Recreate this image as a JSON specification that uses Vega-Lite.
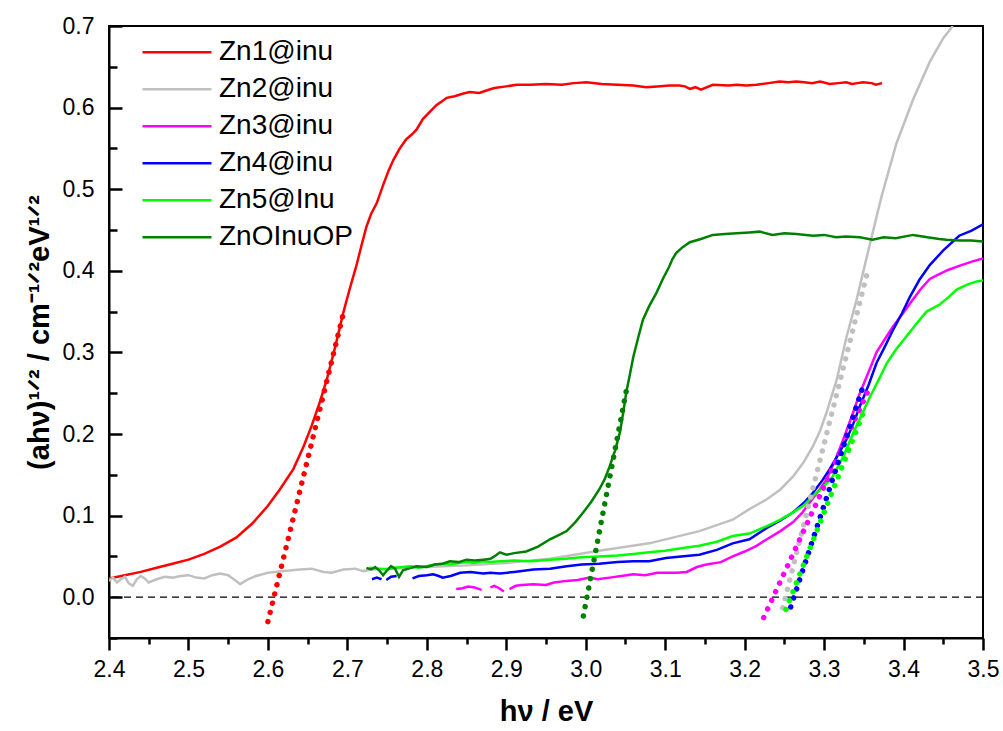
{
"$schema": "https://vega.github.io/schema/vega-lite/v6.json",
"width": 874, "height": 612,
"autosize": {"type": "none"},
"padding": {"left": 109, "top": 26, "right": 20, "bottom": 93},
"background": "white",
"config": {"view": {"stroke": "black", "strokeWidth": 2}, "font": "Liberation Sans"},
"datasets": {
"curves": [
{"s":"Zn1@inu","g":"a","x":2.400,"y":0.023},{"s":"Zn1@inu","g":"a","x":2.420,"y":0.027},{"s":"Zn1@inu","g":"a","x":2.440,"y":0.031},{"s":"Zn1@inu","g":"a","x":2.460,"y":0.036},{"s":"Zn1@inu","g":"a","x":2.480,"y":0.041},{"s":"Zn1@inu","g":"a","x":2.500,"y":0.046},{"s":"Zn1@inu","g":"a","x":2.520,"y":0.053},{"s":"Zn1@inu","g":"a","x":2.540,"y":0.062},{"s":"Zn1@inu","g":"a","x":2.560,"y":0.073},{"s":"Zn1@inu","g":"a","x":2.580,"y":0.090},{"s":"Zn1@inu","g":"a","x":2.600,"y":0.112},{"s":"Zn1@inu","g":"a","x":2.615,"y":0.132},{"s":"Zn1@inu","g":"a","x":2.632,"y":0.157},{"s":"Zn1@inu","g":"a","x":2.645,"y":0.185},{"s":"Zn1@inu","g":"a","x":2.655,"y":0.210},{"s":"Zn1@inu","g":"a","x":2.665,"y":0.238},{"s":"Zn1@inu","g":"a","x":2.675,"y":0.270},{"s":"Zn1@inu","g":"a","x":2.685,"y":0.308},{"s":"Zn1@inu","g":"a","x":2.695,"y":0.349},{"s":"Zn1@inu","g":"a","x":2.703,"y":0.378},{"s":"Zn1@inu","g":"a","x":2.711,"y":0.405},{"s":"Zn1@inu","g":"a","x":2.718,"y":0.432},{"s":"Zn1@inu","g":"a","x":2.724,"y":0.454},{"s":"Zn1@inu","g":"a","x":2.730,"y":0.470},{"s":"Zn1@inu","g":"a","x":2.737,"y":0.483},{"s":"Zn1@inu","g":"a","x":2.745,"y":0.505},{"s":"Zn1@inu","g":"a","x":2.752,"y":0.523},{"s":"Zn1@inu","g":"a","x":2.758,"y":0.536},{"s":"Zn1@inu","g":"a","x":2.766,"y":0.550},{"s":"Zn1@inu","g":"a","x":2.774,"y":0.561},{"s":"Zn1@inu","g":"a","x":2.781,"y":0.567},{"s":"Zn1@inu","g":"a","x":2.787,"y":0.573},{"s":"Zn1@inu","g":"a","x":2.795,"y":0.586},{"s":"Zn1@inu","g":"a","x":2.804,"y":0.595},{"s":"Zn1@inu","g":"a","x":2.812,"y":0.603},{"s":"Zn1@inu","g":"a","x":2.818,"y":0.607},{"s":"Zn1@inu","g":"a","x":2.825,"y":0.612},{"s":"Zn1@inu","g":"a","x":2.835,"y":0.614},{"s":"Zn1@inu","g":"a","x":2.845,"y":0.617},{"s":"Zn1@inu","g":"a","x":2.854,"y":0.619},{"s":"Zn1@inu","g":"a","x":2.866,"y":0.618},{"s":"Zn1@inu","g":"a","x":2.875,"y":0.621},{"s":"Zn1@inu","g":"a","x":2.885,"y":0.624},{"s":"Zn1@inu","g":"a","x":2.900,"y":0.626},{"s":"Zn1@inu","g":"a","x":2.913,"y":0.628},{"s":"Zn1@inu","g":"a","x":2.930,"y":0.628},{"s":"Zn1@inu","g":"a","x":2.950,"y":0.629},{"s":"Zn1@inu","g":"a","x":2.970,"y":0.628},{"s":"Zn1@inu","g":"a","x":2.985,"y":0.630},{"s":"Zn1@inu","g":"a","x":3.001,"y":0.631},{"s":"Zn1@inu","g":"a","x":3.020,"y":0.629},{"s":"Zn1@inu","g":"a","x":3.040,"y":0.628},{"s":"Zn1@inu","g":"a","x":3.060,"y":0.627},{"s":"Zn1@inu","g":"a","x":3.076,"y":0.625},{"s":"Zn1@inu","g":"a","x":3.090,"y":0.626},{"s":"Zn1@inu","g":"a","x":3.105,"y":0.627},{"s":"Zn1@inu","g":"a","x":3.118,"y":0.627},{"s":"Zn1@inu","g":"a","x":3.125,"y":0.626},{"s":"Zn1@inu","g":"a","x":3.131,"y":0.623},{"s":"Zn1@inu","g":"a","x":3.138,"y":0.625},{"s":"Zn1@inu","g":"a","x":3.145,"y":0.622},{"s":"Zn1@inu","g":"a","x":3.160,"y":0.628},{"s":"Zn1@inu","g":"a","x":3.180,"y":0.627},{"s":"Zn1@inu","g":"a","x":3.190,"y":0.628},{"s":"Zn1@inu","g":"a","x":3.202,"y":0.627},{"s":"Zn1@inu","g":"a","x":3.215,"y":0.628},{"s":"Zn1@inu","g":"a","x":3.230,"y":0.630},{"s":"Zn1@inu","g":"a","x":3.244,"y":0.632},{"s":"Zn1@inu","g":"a","x":3.255,"y":0.631},{"s":"Zn1@inu","g":"a","x":3.265,"y":0.632},{"s":"Zn1@inu","g":"a","x":3.275,"y":0.631},{"s":"Zn1@inu","g":"a","x":3.285,"y":0.630},{"s":"Zn1@inu","g":"a","x":3.295,"y":0.632},{"s":"Zn1@inu","g":"a","x":3.307,"y":0.629},{"s":"Zn1@inu","g":"a","x":3.318,"y":0.630},{"s":"Zn1@inu","g":"a","x":3.328,"y":0.631},{"s":"Zn1@inu","g":"a","x":3.335,"y":0.629},{"s":"Zn1@inu","g":"a","x":3.342,"y":0.630},{"s":"Zn1@inu","g":"a","x":3.349,"y":0.631},{"s":"Zn1@inu","g":"a","x":3.360,"y":0.630},{"s":"Zn1@inu","g":"a","x":3.365,"y":0.628},{"s":"Zn1@inu","g":"a","x":3.373,"y":0.630},
{"s":"Zn2@inu","g":"a","x":2.400,"y":0.020},{"s":"Zn2@inu","g":"a","x":2.405,"y":0.024},{"s":"Zn2@inu","g":"a","x":2.410,"y":0.018},{"s":"Zn2@inu","g":"a","x":2.415,"y":0.022},{"s":"Zn2@inu","g":"a","x":2.420,"y":0.025},{"s":"Zn2@inu","g":"a","x":2.425,"y":0.017},{"s":"Zn2@inu","g":"a","x":2.430,"y":0.014},{"s":"Zn2@inu","g":"a","x":2.435,"y":0.022},{"s":"Zn2@inu","g":"a","x":2.440,"y":0.026},{"s":"Zn2@inu","g":"a","x":2.445,"y":0.023},{"s":"Zn2@inu","g":"a","x":2.450,"y":0.018},{"s":"Zn2@inu","g":"a","x":2.460,"y":0.022},{"s":"Zn2@inu","g":"a","x":2.470,"y":0.025},{"s":"Zn2@inu","g":"a","x":2.480,"y":0.024},{"s":"Zn2@inu","g":"a","x":2.490,"y":0.026},{"s":"Zn2@inu","g":"a","x":2.500,"y":0.027},{"s":"Zn2@inu","g":"a","x":2.510,"y":0.024},{"s":"Zn2@inu","g":"a","x":2.520,"y":0.023},{"s":"Zn2@inu","g":"a","x":2.530,"y":0.027},{"s":"Zn2@inu","g":"a","x":2.540,"y":0.029},{"s":"Zn2@inu","g":"a","x":2.550,"y":0.027},{"s":"Zn2@inu","g":"a","x":2.560,"y":0.020},{"s":"Zn2@inu","g":"a","x":2.565,"y":0.016},{"s":"Zn2@inu","g":"a","x":2.575,"y":0.022},{"s":"Zn2@inu","g":"a","x":2.585,"y":0.026},{"s":"Zn2@inu","g":"a","x":2.600,"y":0.030},{"s":"Zn2@inu","g":"a","x":2.620,"y":0.032},{"s":"Zn2@inu","g":"a","x":2.640,"y":0.034},{"s":"Zn2@inu","g":"a","x":2.655,"y":0.035},{"s":"Zn2@inu","g":"a","x":2.670,"y":0.031},{"s":"Zn2@inu","g":"a","x":2.680,"y":0.030},{"s":"Zn2@inu","g":"a","x":2.695,"y":0.034},{"s":"Zn2@inu","g":"a","x":2.710,"y":0.035},{"s":"Zn2@inu","g":"a","x":2.720,"y":0.032},{"s":"Zn2@inu","g":"a","x":2.730,"y":0.034},{"s":"Zn2@inu","g":"a","x":2.750,"y":0.035},{"s":"Zn2@inu","g":"a","x":2.800,"y":0.037},{"s":"Zn2@inu","g":"a","x":2.850,"y":0.039},{"s":"Zn2@inu","g":"a","x":2.900,"y":0.042},{"s":"Zn2@inu","g":"a","x":2.955,"y":0.047},{"s":"Zn2@inu","g":"a","x":3.017,"y":0.057},{"s":"Zn2@inu","g":"a","x":3.080,"y":0.066},{"s":"Zn2@inu","g":"a","x":3.143,"y":0.081},{"s":"Zn2@inu","g":"a","x":3.185,"y":0.095},{"s":"Zn2@inu","g":"a","x":3.206,"y":0.108},{"s":"Zn2@inu","g":"a","x":3.228,"y":0.120},{"s":"Zn2@inu","g":"a","x":3.245,"y":0.132},{"s":"Zn2@inu","g":"a","x":3.261,"y":0.148},{"s":"Zn2@inu","g":"a","x":3.274,"y":0.165},{"s":"Zn2@inu","g":"a","x":3.286,"y":0.185},{"s":"Zn2@inu","g":"a","x":3.295,"y":0.204},{"s":"Zn2@inu","g":"a","x":3.303,"y":0.226},{"s":"Zn2@inu","g":"a","x":3.316,"y":0.267},{"s":"Zn2@inu","g":"a","x":3.328,"y":0.318},{"s":"Zn2@inu","g":"a","x":3.341,"y":0.365},{"s":"Zn2@inu","g":"a","x":3.353,"y":0.414},{"s":"Zn2@inu","g":"a","x":3.372,"y":0.490},{"s":"Zn2@inu","g":"a","x":3.391,"y":0.556},{"s":"Zn2@inu","g":"a","x":3.412,"y":0.610},{"s":"Zn2@inu","g":"a","x":3.433,"y":0.656},{"s":"Zn2@inu","g":"a","x":3.450,"y":0.685},{"s":"Zn2@inu","g":"a","x":3.462,"y":0.700},
{"s":"Zn3@inu","g":"a","x":2.837,"y":0.010},{"s":"Zn3@inu","g":"a","x":2.845,"y":0.011},{"s":"Zn3@inu","g":"a","x":2.852,"y":0.013},{"s":"Zn3@inu","g":"a","x":2.860,"y":0.012},{"s":"Zn3@inu","g":"a","x":2.869,"y":0.009},
{"s":"Zn3@inu","g":"b","x":2.880,"y":0.012},{"s":"Zn3@inu","g":"b","x":2.885,"y":0.014},{"s":"Zn3@inu","g":"b","x":2.891,"y":0.011},{"s":"Zn3@inu","g":"b","x":2.897,"y":0.007},
{"s":"Zn3@inu","g":"c","x":2.904,"y":0.010},{"s":"Zn3@inu","g":"c","x":2.912,"y":0.014},{"s":"Zn3@inu","g":"c","x":2.920,"y":0.015},{"s":"Zn3@inu","g":"c","x":2.934,"y":0.016},{"s":"Zn3@inu","g":"c","x":2.950,"y":0.015},{"s":"Zn3@inu","g":"c","x":2.960,"y":0.018},{"s":"Zn3@inu","g":"c","x":2.976,"y":0.020},{"s":"Zn3@inu","g":"c","x":2.990,"y":0.021},{"s":"Zn3@inu","g":"c","x":3.005,"y":0.024},{"s":"Zn3@inu","g":"c","x":3.015,"y":0.022},{"s":"Zn3@inu","g":"c","x":3.030,"y":0.024},{"s":"Zn3@inu","g":"c","x":3.045,"y":0.026},{"s":"Zn3@inu","g":"c","x":3.060,"y":0.028},{"s":"Zn3@inu","g":"c","x":3.075,"y":0.027},{"s":"Zn3@inu","g":"c","x":3.090,"y":0.030},{"s":"Zn3@inu","g":"c","x":3.101,"y":0.030},{"s":"Zn3@inu","g":"c","x":3.115,"y":0.030},{"s":"Zn3@inu","g":"c","x":3.127,"y":0.031},{"s":"Zn3@inu","g":"c","x":3.140,"y":0.037},{"s":"Zn3@inu","g":"c","x":3.152,"y":0.040},{"s":"Zn3@inu","g":"c","x":3.170,"y":0.043},{"s":"Zn3@inu","g":"c","x":3.185,"y":0.050},{"s":"Zn3@inu","g":"c","x":3.200,"y":0.056},{"s":"Zn3@inu","g":"c","x":3.215,"y":0.063},{"s":"Zn3@inu","g":"c","x":3.228,"y":0.071},{"s":"Zn3@inu","g":"c","x":3.245,"y":0.081},{"s":"Zn3@inu","g":"c","x":3.261,"y":0.092},{"s":"Zn3@inu","g":"c","x":3.272,"y":0.103},{"s":"Zn3@inu","g":"c","x":3.282,"y":0.116},{"s":"Zn3@inu","g":"c","x":3.293,"y":0.130},{"s":"Zn3@inu","g":"c","x":3.303,"y":0.144},{"s":"Zn3@inu","g":"c","x":3.314,"y":0.168},{"s":"Zn3@inu","g":"c","x":3.324,"y":0.193},{"s":"Zn3@inu","g":"c","x":3.335,"y":0.222},{"s":"Zn3@inu","g":"c","x":3.345,"y":0.250},{"s":"Zn3@inu","g":"c","x":3.356,"y":0.276},{"s":"Zn3@inu","g":"c","x":3.366,"y":0.300},{"s":"Zn3@inu","g":"c","x":3.377,"y":0.317},{"s":"Zn3@inu","g":"c","x":3.387,"y":0.332},{"s":"Zn3@inu","g":"c","x":3.400,"y":0.349},{"s":"Zn3@inu","g":"c","x":3.412,"y":0.365},{"s":"Zn3@inu","g":"c","x":3.422,"y":0.378},{"s":"Zn3@inu","g":"c","x":3.433,"y":0.390},{"s":"Zn3@inu","g":"c","x":3.445,"y":0.396},{"s":"Zn3@inu","g":"c","x":3.456,"y":0.401},{"s":"Zn3@inu","g":"c","x":3.470,"y":0.406},{"s":"Zn3@inu","g":"c","x":3.485,"y":0.411},{"s":"Zn3@inu","g":"c","x":3.500,"y":0.415},
{"s":"Zn4@inu","g":"a","x":2.731,"y":0.022},{"s":"Zn4@inu","g":"a","x":2.737,"y":0.024},{"s":"Zn4@inu","g":"a","x":2.743,"y":0.022},
{"s":"Zn4@inu","g":"b","x":2.749,"y":0.021},{"s":"Zn4@inu","g":"b","x":2.755,"y":0.025},{"s":"Zn4@inu","g":"b","x":2.762,"y":0.026},
{"s":"Zn4@inu","g":"c","x":2.782,"y":0.023},{"s":"Zn4@inu","g":"c","x":2.790,"y":0.026},{"s":"Zn4@inu","g":"c","x":2.800,"y":0.027},{"s":"Zn4@inu","g":"c","x":2.808,"y":0.028},{"s":"Zn4@inu","g":"c","x":2.815,"y":0.026},{"s":"Zn4@inu","g":"c","x":2.820,"y":0.024},{"s":"Zn4@inu","g":"c","x":2.830,"y":0.026},{"s":"Zn4@inu","g":"c","x":2.842,"y":0.030},{"s":"Zn4@inu","g":"c","x":2.855,"y":0.031},{"s":"Zn4@inu","g":"c","x":2.871,"y":0.029},{"s":"Zn4@inu","g":"c","x":2.880,"y":0.030},{"s":"Zn4@inu","g":"c","x":2.892,"y":0.029},{"s":"Zn4@inu","g":"c","x":2.910,"y":0.031},{"s":"Zn4@inu","g":"c","x":2.934,"y":0.034},{"s":"Zn4@inu","g":"c","x":2.955,"y":0.035},{"s":"Zn4@inu","g":"c","x":2.976,"y":0.038},{"s":"Zn4@inu","g":"c","x":2.995,"y":0.040},{"s":"Zn4@inu","g":"c","x":3.017,"y":0.041},{"s":"Zn4@inu","g":"c","x":3.040,"y":0.043},{"s":"Zn4@inu","g":"c","x":3.060,"y":0.044},{"s":"Zn4@inu","g":"c","x":3.080,"y":0.044},{"s":"Zn4@inu","g":"c","x":3.101,"y":0.048},{"s":"Zn4@inu","g":"c","x":3.120,"y":0.050},{"s":"Zn4@inu","g":"c","x":3.143,"y":0.052},{"s":"Zn4@inu","g":"c","x":3.165,"y":0.058},{"s":"Zn4@inu","g":"c","x":3.185,"y":0.066},{"s":"Zn4@inu","g":"c","x":3.206,"y":0.071},{"s":"Zn4@inu","g":"c","x":3.228,"y":0.085},{"s":"Zn4@inu","g":"c","x":3.245,"y":0.094},{"s":"Zn4@inu","g":"c","x":3.261,"y":0.104},{"s":"Zn4@inu","g":"c","x":3.275,"y":0.116},{"s":"Zn4@inu","g":"c","x":3.286,"y":0.128},{"s":"Zn4@inu","g":"c","x":3.297,"y":0.142},{"s":"Zn4@inu","g":"c","x":3.307,"y":0.157},{"s":"Zn4@inu","g":"c","x":3.318,"y":0.175},{"s":"Zn4@inu","g":"c","x":3.328,"y":0.193},{"s":"Zn4@inu","g":"c","x":3.337,"y":0.213},{"s":"Zn4@inu","g":"c","x":3.345,"y":0.234},{"s":"Zn4@inu","g":"c","x":3.356,"y":0.260},{"s":"Zn4@inu","g":"c","x":3.366,"y":0.287},{"s":"Zn4@inu","g":"c","x":3.377,"y":0.308},{"s":"Zn4@inu","g":"c","x":3.387,"y":0.328},{"s":"Zn4@inu","g":"c","x":3.398,"y":0.348},{"s":"Zn4@inu","g":"c","x":3.408,"y":0.368},{"s":"Zn4@inu","g":"c","x":3.420,"y":0.389},{"s":"Zn4@inu","g":"c","x":3.433,"y":0.407},{"s":"Zn4@inu","g":"c","x":3.450,"y":0.425},{"s":"Zn4@inu","g":"c","x":3.470,"y":0.443},{"s":"Zn4@inu","g":"c","x":3.485,"y":0.449},{"s":"Zn4@inu","g":"c","x":3.500,"y":0.457},
{"s":"Zn5@Inu","g":"a","x":2.728,"y":0.036},{"s":"Zn5@Inu","g":"a","x":2.740,"y":0.035},{"s":"Zn5@Inu","g":"a","x":2.750,"y":0.034},{"s":"Zn5@Inu","g":"a","x":2.760,"y":0.036},{"s":"Zn5@Inu","g":"a","x":2.770,"y":0.037},{"s":"Zn5@Inu","g":"a","x":2.780,"y":0.038},{"s":"Zn5@Inu","g":"a","x":2.790,"y":0.036},{"s":"Zn5@Inu","g":"a","x":2.800,"y":0.038},{"s":"Zn5@Inu","g":"a","x":2.810,"y":0.040},{"s":"Zn5@Inu","g":"a","x":2.820,"y":0.041},{"s":"Zn5@Inu","g":"a","x":2.830,"y":0.040},{"s":"Zn5@Inu","g":"a","x":2.840,"y":0.042},{"s":"Zn5@Inu","g":"a","x":2.850,"y":0.043},{"s":"Zn5@Inu","g":"a","x":2.860,"y":0.042},{"s":"Zn5@Inu","g":"a","x":2.870,"y":0.044},{"s":"Zn5@Inu","g":"a","x":2.880,"y":0.043},{"s":"Zn5@Inu","g":"a","x":2.892,"y":0.044},{"s":"Zn5@Inu","g":"a","x":2.910,"y":0.045},{"s":"Zn5@Inu","g":"a","x":2.930,"y":0.044},{"s":"Zn5@Inu","g":"a","x":2.955,"y":0.046},{"s":"Zn5@Inu","g":"a","x":2.975,"y":0.047},{"s":"Zn5@Inu","g":"a","x":2.995,"y":0.049},{"s":"Zn5@Inu","g":"a","x":3.017,"y":0.050},{"s":"Zn5@Inu","g":"a","x":3.040,"y":0.051},{"s":"Zn5@Inu","g":"a","x":3.060,"y":0.053},{"s":"Zn5@Inu","g":"a","x":3.080,"y":0.055},{"s":"Zn5@Inu","g":"a","x":3.100,"y":0.057},{"s":"Zn5@Inu","g":"a","x":3.120,"y":0.060},{"s":"Zn5@Inu","g":"a","x":3.143,"y":0.063},{"s":"Zn5@Inu","g":"a","x":3.165,"y":0.068},{"s":"Zn5@Inu","g":"a","x":3.185,"y":0.075},{"s":"Zn5@Inu","g":"a","x":3.206,"y":0.078},{"s":"Zn5@Inu","g":"a","x":3.228,"y":0.087},{"s":"Zn5@Inu","g":"a","x":3.245,"y":0.095},{"s":"Zn5@Inu","g":"a","x":3.261,"y":0.104},{"s":"Zn5@Inu","g":"a","x":3.275,"y":0.113},{"s":"Zn5@Inu","g":"a","x":3.286,"y":0.124},{"s":"Zn5@Inu","g":"a","x":3.300,"y":0.136},{"s":"Zn5@Inu","g":"a","x":3.311,"y":0.148},{"s":"Zn5@Inu","g":"a","x":3.324,"y":0.172},{"s":"Zn5@Inu","g":"a","x":3.337,"y":0.202},{"s":"Zn5@Inu","g":"a","x":3.348,"y":0.225},{"s":"Zn5@Inu","g":"a","x":3.358,"y":0.246},{"s":"Zn5@Inu","g":"a","x":3.369,"y":0.267},{"s":"Zn5@Inu","g":"a","x":3.379,"y":0.287},{"s":"Zn5@Inu","g":"a","x":3.390,"y":0.303},{"s":"Zn5@Inu","g":"a","x":3.404,"y":0.320},{"s":"Zn5@Inu","g":"a","x":3.417,"y":0.336},{"s":"Zn5@Inu","g":"a","x":3.429,"y":0.350},{"s":"Zn5@Inu","g":"a","x":3.446,"y":0.359},{"s":"Zn5@Inu","g":"a","x":3.457,"y":0.368},{"s":"Zn5@Inu","g":"a","x":3.467,"y":0.377},{"s":"Zn5@Inu","g":"a","x":3.480,"y":0.383},{"s":"Zn5@Inu","g":"a","x":3.492,"y":0.387},{"s":"Zn5@Inu","g":"a","x":3.500,"y":0.388},
{"s":"ZnOInuOP","g":"a","x":2.724,"y":0.036},{"s":"ZnOInuOP","g":"a","x":2.730,"y":0.034},{"s":"ZnOInuOP","g":"a","x":2.735,"y":0.037},{"s":"ZnOInuOP","g":"a","x":2.740,"y":0.033},{"s":"ZnOInuOP","g":"a","x":2.745,"y":0.027},{"s":"ZnOInuOP","g":"a","x":2.750,"y":0.033},{"s":"ZnOInuOP","g":"a","x":2.755,"y":0.038},{"s":"ZnOInuOP","g":"a","x":2.760,"y":0.035},{"s":"ZnOInuOP","g":"a","x":2.765,"y":0.025},{"s":"ZnOInuOP","g":"a","x":2.770,"y":0.033},{"s":"ZnOInuOP","g":"a","x":2.780,"y":0.036},{"s":"ZnOInuOP","g":"a","x":2.787,"y":0.038},{"s":"ZnOInuOP","g":"a","x":2.800,"y":0.037},{"s":"ZnOInuOP","g":"a","x":2.810,"y":0.040},{"s":"ZnOInuOP","g":"a","x":2.820,"y":0.041},{"s":"ZnOInuOP","g":"a","x":2.829,"y":0.044},{"s":"ZnOInuOP","g":"a","x":2.840,"y":0.043},{"s":"ZnOInuOP","g":"a","x":2.850,"y":0.046},{"s":"ZnOInuOP","g":"a","x":2.860,"y":0.045},{"s":"ZnOInuOP","g":"a","x":2.871,"y":0.046},{"s":"ZnOInuOP","g":"a","x":2.880,"y":0.047},{"s":"ZnOInuOP","g":"a","x":2.885,"y":0.050},{"s":"ZnOInuOP","g":"a","x":2.892,"y":0.055},{"s":"ZnOInuOP","g":"a","x":2.900,"y":0.052},{"s":"ZnOInuOP","g":"a","x":2.910,"y":0.054},{"s":"ZnOInuOP","g":"a","x":2.925,"y":0.056},{"s":"ZnOInuOP","g":"a","x":2.940,"y":0.062},{"s":"ZnOInuOP","g":"a","x":2.955,"y":0.071},{"s":"ZnOInuOP","g":"a","x":2.966,"y":0.076},{"s":"ZnOInuOP","g":"a","x":2.976,"y":0.081},{"s":"ZnOInuOP","g":"a","x":2.987,"y":0.092},{"s":"ZnOInuOP","g":"a","x":2.997,"y":0.104},{"s":"ZnOInuOP","g":"a","x":3.007,"y":0.117},{"s":"ZnOInuOP","g":"a","x":3.017,"y":0.132},{"s":"ZnOInuOP","g":"a","x":3.024,"y":0.145},{"s":"ZnOInuOP","g":"a","x":3.030,"y":0.160},{"s":"ZnOInuOP","g":"a","x":3.037,"y":0.180},{"s":"ZnOInuOP","g":"a","x":3.043,"y":0.202},{"s":"ZnOInuOP","g":"a","x":3.047,"y":0.225},{"s":"ZnOInuOP","g":"a","x":3.051,"y":0.251},{"s":"ZnOInuOP","g":"a","x":3.056,"y":0.275},{"s":"ZnOInuOP","g":"a","x":3.060,"y":0.295},{"s":"ZnOInuOP","g":"a","x":3.066,"y":0.318},{"s":"ZnOInuOP","g":"a","x":3.072,"y":0.340},{"s":"ZnOInuOP","g":"a","x":3.080,"y":0.357},{"s":"ZnOInuOP","g":"a","x":3.089,"y":0.373},{"s":"ZnOInuOP","g":"a","x":3.097,"y":0.390},{"s":"ZnOInuOP","g":"a","x":3.105,"y":0.405},{"s":"ZnOInuOP","g":"a","x":3.109,"y":0.414},{"s":"ZnOInuOP","g":"a","x":3.114,"y":0.422},{"s":"ZnOInuOP","g":"a","x":3.122,"y":0.429},{"s":"ZnOInuOP","g":"a","x":3.131,"y":0.435},{"s":"ZnOInuOP","g":"a","x":3.145,"y":0.439},{"s":"ZnOInuOP","g":"a","x":3.160,"y":0.444},{"s":"ZnOInuOP","g":"a","x":3.175,"y":0.445},{"s":"ZnOInuOP","g":"a","x":3.190,"y":0.446},{"s":"ZnOInuOP","g":"a","x":3.206,"y":0.447},{"s":"ZnOInuOP","g":"a","x":3.219,"y":0.448},{"s":"ZnOInuOP","g":"a","x":3.235,"y":0.444},{"s":"ZnOInuOP","g":"a","x":3.250,"y":0.446},{"s":"ZnOInuOP","g":"a","x":3.265,"y":0.445},{"s":"ZnOInuOP","g":"a","x":3.286,"y":0.443},{"s":"ZnOInuOP","g":"a","x":3.300,"y":0.444},{"s":"ZnOInuOP","g":"a","x":3.315,"y":0.441},{"s":"ZnOInuOP","g":"a","x":3.328,"y":0.442},{"s":"ZnOInuOP","g":"a","x":3.345,"y":0.441},{"s":"ZnOInuOP","g":"a","x":3.361,"y":0.438},{"s":"ZnOInuOP","g":"a","x":3.375,"y":0.441},{"s":"ZnOInuOP","g":"a","x":3.390,"y":0.440},{"s":"ZnOInuOP","g":"a","x":3.412,"y":0.444},{"s":"ZnOInuOP","g":"a","x":3.430,"y":0.441},{"s":"ZnOInuOP","g":"a","x":3.445,"y":0.439},{"s":"ZnOInuOP","g":"a","x":3.454,"y":0.438},{"s":"ZnOInuOP","g":"a","x":3.470,"y":0.437},{"s":"ZnOInuOP","g":"a","x":3.485,"y":0.437},{"s":"ZnOInuOP","g":"a","x":3.500,"y":0.436}
],
"tangents": [
{"s":"Zn1@inu","x":2.600,"y":-0.030},{"s":"Zn1@inu","x":2.695,"y":0.348},
{"s":"Zn2@inu","x":3.248,"y":-0.013},{"s":"Zn2@inu","x":3.355,"y":0.400},
{"s":"Zn3@inu","x":3.224,"y":-0.025},{"s":"Zn3@inu","x":3.355,"y":0.252},
{"s":"Zn4@inu","x":3.258,"y":-0.012},{"s":"Zn4@inu","x":3.351,"y":0.264},
{"s":"Zn5@Inu","x":3.252,"y":-0.015},{"s":"Zn5@Inu","x":3.351,"y":0.230},
{"s":"ZnOInuOP","x":2.997,"y":-0.023},{"s":"ZnOInuOP","x":3.053,"y":0.263}
],
"baseline": [{"y0": 0}]
},
"layer": [
{
"data": {"name": "baseline"},
"mark": {"type": "rule", "strokeDash": [7, 5], "strokeWidth": 1.3, "color": "black"},
"encoding": {
"y": {"field": "y0", "type": "quantitative", "scale": {"domain": [-0.05, 0.7], "nice": false, "zero": false},
"axis": {"orient": "left", "values": [-0.05, 0.05, 0.15, 0.25, 0.35, 0.45, 0.55, 0.65], "ticks": true, "tickSize": -8, "tickWidth": 2.5, "tickColor": "black", "labels": false, "domain": false, "grid": false, "title": null}}
}
},
{
"data": {"name": "curves"},
"mark": {"type": "line", "strokeWidth": 2.5, "clip": true},
"encoding": {
"x": {"field": "x", "type": "quantitative", "scale": {"domain": [2.4, 3.5], "nice": false, "zero": false},
"axis": {"orient": "bottom", "values": [2.4, 2.5, 2.6, 2.7, 2.8, 2.9, 3.0, 3.1, 3.2, 3.3, 3.4, 3.5], "format": ".1f", "ticks": true, "tickSize": 12, "tickWidth": 2.5, "tickColor": "black", "domainColor": "black", "domainWidth": 2, "labelFontSize": 23, "labelColor": "black", "labelFont": "Liberation Sans", "labelPadding": 8, "labelFlush": false, "grid": false,
"title": "hν / eV", "titleFont": "Liberation Sans", "titleFontSize": 29, "titleFontWeight": "bold", "titleColor": "black", "titlePadding": 16}},
"y": {"field": "y", "type": "quantitative", "scale": {"domain": [-0.05, 0.7], "nice": false, "zero": false},
"axis": {"orient": "left", "values": [0, 0.1, 0.2, 0.3, 0.4, 0.5, 0.6, 0.7], "format": ".1f", "ticks": true, "tickSize": -13, "tickWidth": 2.5, "tickColor": "black", "domainColor": "black", "domainWidth": 2, "labelFontSize": 23, "labelColor": "black", "labelFont": "Liberation Sans", "labelPadding": 28, "labelFlush": false, "grid": false,
"title": "(ahν)¹ᐟ² / cm⁻¹ᐟ²eV¹ᐟ²", "titleFont": "Liberation Sans", "titleFontSize": 29, "titleFontWeight": "bold", "titleColor": "black", "titlePadding": 8}},
"color": {"field": "s", "type": "nominal",
"scale": {"domain": ["Zn1@inu", "Zn2@inu", "Zn3@inu", "Zn4@inu", "Zn5@Inu", "ZnOInuOP"], "range": ["#ff0000", "#c0c0c0", "#ff00ff", "#0000ff", "#00ff00", "#008000"]},
"legend": {"orient": "none", "legendX": 32, "legendY": 8, "title": null, "symbolType": "stroke", "symbolSize": 4761, "symbolStrokeWidth": 2.5, "labelFontSize": 28, "labelFont": "Liberation Sans", "labelColor": "black", "labelOffset": 6, "clipHeight": 36.5, "rowPadding": 0, "padding": 0}},
"detail": {"field": "g"}
}
},
{
"data": {"name": "tangents"},
"mark": {"type": "line", "strokeWidth": 5.5, "strokeDash": [0.01, 9.5], "strokeCap": "round", "clip": true},
"encoding": {
"x": {"field": "x", "type": "quantitative", "scale": {"domain": [2.4, 3.5], "nice": false, "zero": false},
"axis": {"orient": "bottom", "values": [2.45, 2.55, 2.65, 2.75, 2.85, 2.95, 3.05, 3.15, 3.25, 3.35, 3.45], "ticks": true, "tickSize": 6, "tickWidth": 2.5, "tickColor": "black", "labels": false, "domain": false, "grid": false, "title": null}},
"y": {"field": "y", "type": "quantitative", "axis": null},
"color": {"field": "s", "type": "nominal", "legend": null}
}
}
],
"resolve": {"axis": {"x": "independent", "y": "independent"}}
}
